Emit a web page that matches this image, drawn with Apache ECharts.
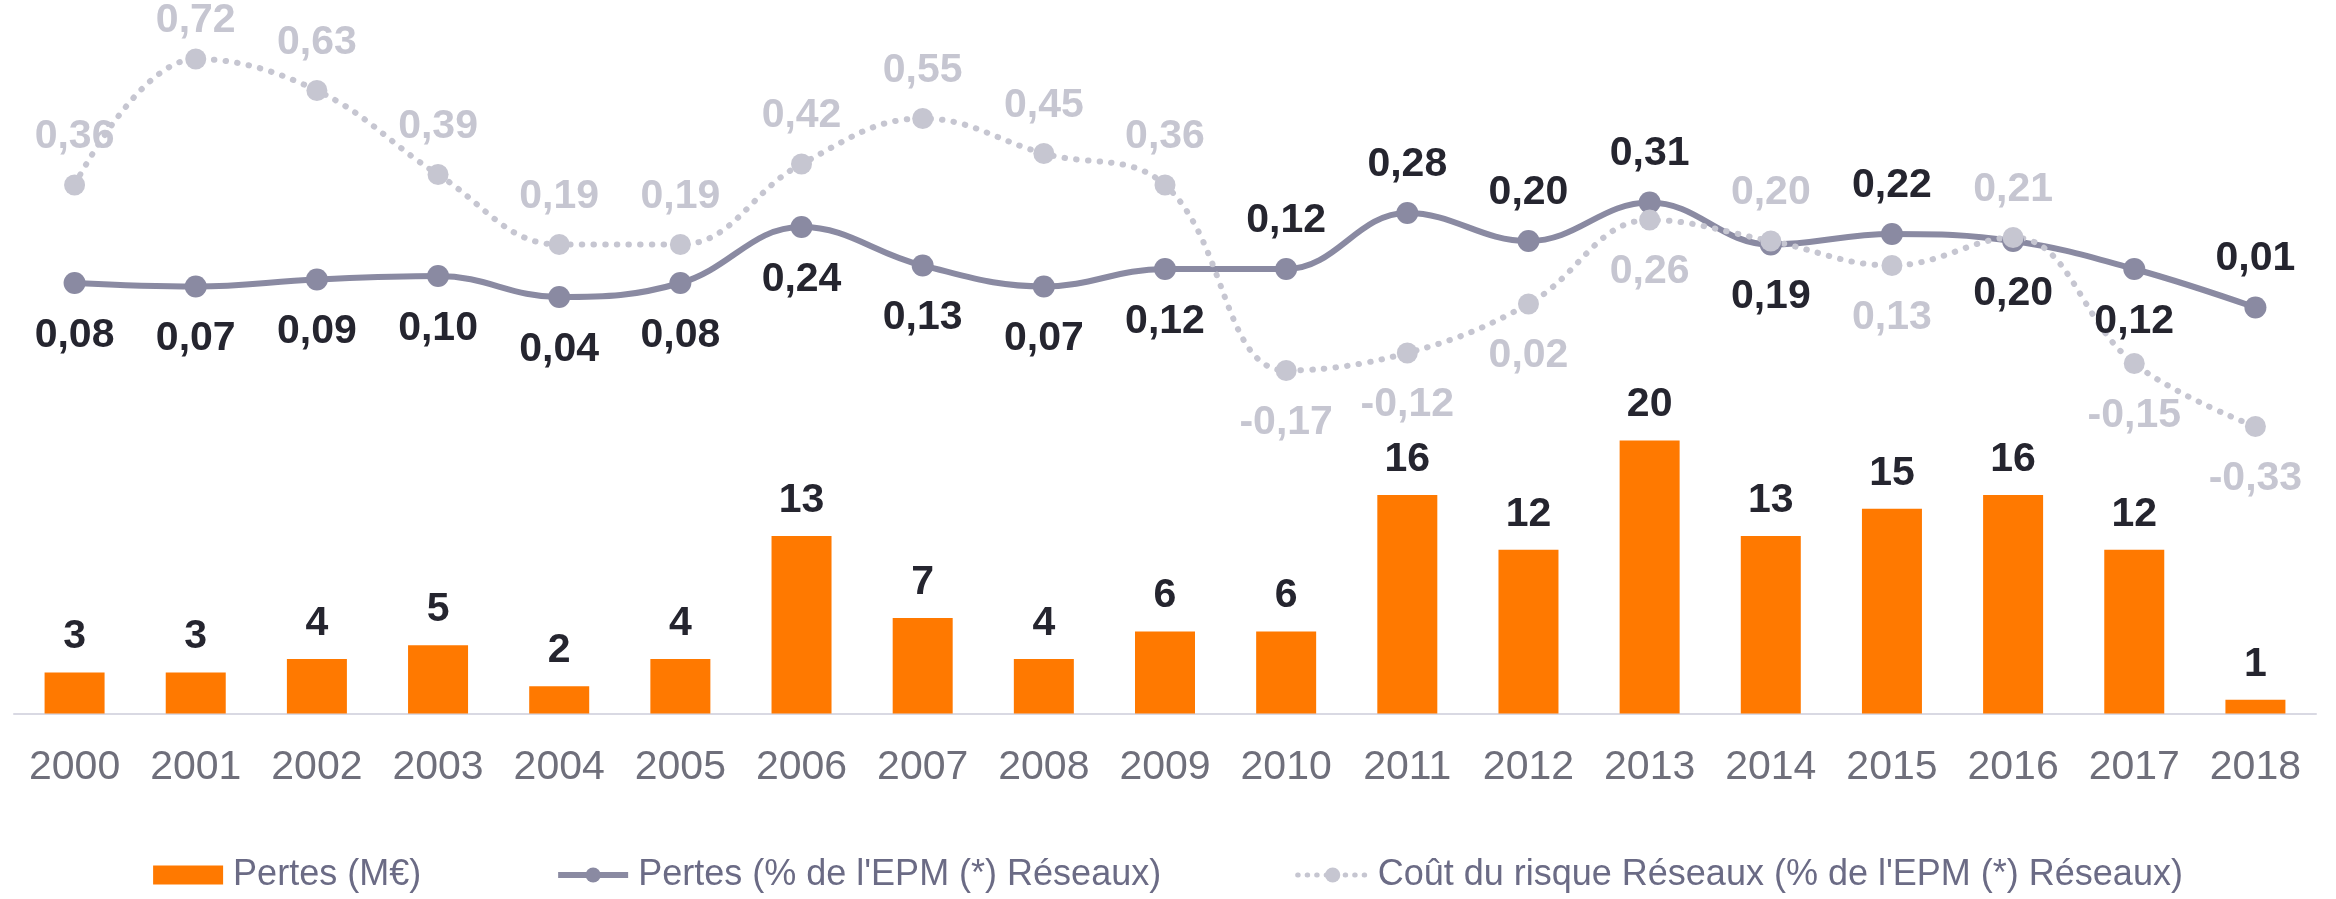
<!DOCTYPE html>
<html>
<head>
<meta charset="utf-8">
<title>Pertes Réseaux</title>
<script src="https://cdn.jsdelivr.net/npm/echarts@6.0.0/dist/echarts.min.js"></script>
<style>
  html, body { margin: 0; padding: 0; background: #fff; }
  #chart { width: 2336px; height: 899px; }
</style>
</head>
<body>
<div id="chart"></div>
<script>
// données
const years = ['2000', '2001', '2002', '2003', '2004', '2005', '2006', '2007', '2008', '2009',
  '2010', '2011', '2012', '2013', '2014', '2015', '2016', '2017', '2018'];
const pertesMeur = [3, 3, 4, 5, 2, 4, 13, 7, 4, 6, 6, 16, 12, 20, 13, 15, 16, 12, 1];
const pertesPct = [0.08, 0.07, 0.09, 0.10, 0.04, 0.08, 0.24, 0.13, 0.07, 0.12,
  0.12, 0.28, 0.20, 0.31, 0.19, 0.22, 0.20, 0.12, 0.01];
const coutRisque = [0.36, 0.72, 0.63, 0.39, 0.19, 0.19, 0.42, 0.55, 0.45, 0.36,
  -0.17, -0.12, 0.02, 0.26, 0.20, 0.13, 0.21, -0.15, -0.33];

// côté des étiquettes (t = au-dessus, b = en dessous)
const pertesLblSide = ['b', 'b', 'b', 'b', 'b', 'b', 'b', 'b', 'b', 'b',
  't', 't', 't', 't', 'b', 't', 'b', 'b', 't'];
const coutLblSide = ['t', 't', 't', 't', 't', 't', 't', 't', 't', 't',
  'b', 'b', 'b', 'b', 't', 'b', 't', 'b', 'b'];

const FONT = "'Liberation Sans', Arial, sans-serif";
const GRIS_FONCE = '#8a8aa2';
const GRIS_CLAIR = '#c6c6d1';
const fmt = v => v.toFixed(2).replace('.', ',');

const withLabels = (vals, sides) => vals.map((v, i) => ({
  value: v,
  label: sides[i] === 't'
    ? { position: 'top', distance: 17 }
    : { position: 'bottom', distance: 21 }
}));

const coutData = withLabels(coutRisque, coutLblSide);
// l'étiquette 0,72 est tassée contre le haut
coutData[1].label.offset = [0, 10];

const chart = echarts.init(document.getElementById('chart'));

const option = {
  animation: false,
  textStyle: { fontFamily: FONT },
  grid: { left: 14, right: 20, top: 31, bottom: 185.5 },
  legend: {
    bottom: 1,
    left: 'center',
    itemWidth: 70,
    itemHeight: 19,
    itemGap: 134,
    textStyle: { fontSize: 36, color: '#6b6b85', fontFamily: FONT, padding: [0, 0, 0, 5] },
    data: [
      { name: 'Pertes (M€)', icon: 'rect' },
      {
        name: "Pertes (% de l'EPM (*) Réseaux)",
        lineStyle: { width: 6, color: GRIS_FONCE }
      },
      {
        name: "Coût du risque Réseaux (% de l'EPM (*) Réseaux)",
        lineStyle: { width: 5, color: GRIS_CLAIR, type: [0.5, 9], cap: 'round' }
      }
    ]
  },
  xAxis: {
    type: 'category',
    data: years,
    axisLine: { lineStyle: { color: '#d9d9e3', width: 2 } },
    axisTick: { show: false },
    axisLabel: { fontSize: 41, color: '#6f6f7b', margin: 34, fontFamily: FONT }
  },
  yAxis: [
    { type: 'value', min: 0, max: 50, interval: 10, show: false, splitLine: { show: false } },
    { type: 'value', min: -1.15, max: 0.8, show: false, splitLine: { show: false } }
  ],
  series: [
    {
      name: 'Pertes (M€)',
      type: 'bar',
      data: pertesMeur,
      barWidth: 60,
      itemStyle: { color: '#ff7900' },
      label: {
        show: true,
        position: 'top',
        distance: 15,
        fontSize: 41,
        fontWeight: 'bold',
        color: '#25252f',
        fontFamily: FONT
      }
    },
    {
      name: "Pertes (% de l'EPM (*) Réseaux)",
      type: 'line',
      yAxisIndex: 1,
      smooth: 0.4,
      data: withLabels(pertesPct, pertesLblSide),
      symbol: 'circle',
      symbolSize: 22,
      lineStyle: { color: GRIS_FONCE, width: 6 },
      itemStyle: { color: GRIS_FONCE },
      label: {
        show: true,
        fontSize: 41,
        fontWeight: 'bold',
        color: '#25252f',
        fontFamily: FONT,
        formatter: p => fmt(p.value)
      }
    },
    {
      name: "Coût du risque Réseaux (% de l'EPM (*) Réseaux)",
      type: 'line',
      yAxisIndex: 1,
      smooth: 0.4,
      data: coutData,
      symbol: 'circle',
      symbolSize: 21,
      lineStyle: { color: GRIS_CLAIR, width: 6, type: [0.5, 11.2], cap: 'round' },
      itemStyle: { color: GRIS_CLAIR },
      label: {
        show: true,
        fontSize: 41,
        fontWeight: 'bold',
        color: GRIS_CLAIR,
        fontFamily: FONT,
        formatter: p => fmt(p.value)
      }
    }
  ]
};

chart.setOption(option);
window.addEventListener('resize', () => chart.resize());
</script>
</body>
</html>
